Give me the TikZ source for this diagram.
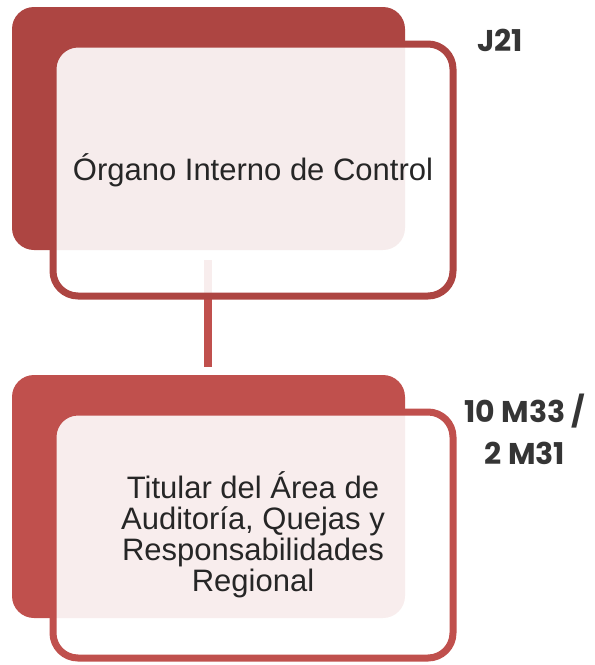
\documentclass[tikz,border=0pt]{standalone}
\usepackage{fontspec}
\setmainfont{Liberation Sans}
\newfontfamily\labfont{Poppins}
\definecolor{redA}{HTML}{AD4542}
\definecolor{redB}{HTML}{C0504D}
\definecolor{txt}{HTML}{262626}
\definecolor{labtxt}{HTML}{353535}
\begin{document}
\begin{tikzpicture}[x=1pt,y=-1pt,
  backbox/.style={rounded corners=22pt, inner sep=0pt, minimum width=393pt, minimum height=243pt},
  frontbox/.style={rounded corners=25pt, inner sep=0pt, line width=7pt, fill=white, fill opacity=0.9, text opacity=1,
     minimum width=400pt, align=center, text=txt, font=\fontsize{31}{31}\selectfont},
  lab/.style={inner sep=0pt, align=center, text=labtxt, font=\labfont\bfseries\fontsize{30}{42}\selectfont},
  conn/.style={draw=redB, line width=8pt}]
\useasboundingbox (0,0) rectangle (595,665);
\coordinate (c1) at (208,260);
\coordinate (c2) at (208,367);
\draw[conn] (c1) -- (c2);
\node[backbox, fill=redA] (back1) at (208.5,128.5) {};
\node[frontbox, draw=redA, minimum height=252pt] (front1) at (253,170) {Órgano Interno de Control};
\node[backbox, fill=redB] (back2) at (208.5,496.5) {};
\node[frontbox, draw=redB, minimum height=246pt] (front2) at (253,535) {Titular del Área de\\Auditoría, Quejas y\\Responsabilidades\\Regional};
\node[lab] (l1) at (500,40) {J21};
\node[lab] (l2) at (525,429) {10 M33 /\\2 M31};
\end{tikzpicture}
\end{document}
